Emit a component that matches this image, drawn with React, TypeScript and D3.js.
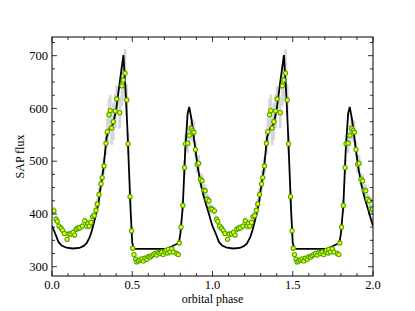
import React from 'react';
import * as d3 from 'd3';

// phase-folded light curve (one orbit, drawn twice)
const phase = [
  0.012, 0.025, 0.033, 0.044, 0.056, 0.066, 0.077, 0.094, 0.106, 0.118,
  0.131, 0.141, 0.151, 0.162, 0.174, 0.189, 0.204, 0.216, 0.224, 0.232,
  0.243, 0.253, 0.263, 0.274, 0.282, 0.293, 0.305, 0.313, 0.324, 0.336,
  0.345, 0.355, 0.363, 0.372, 0.382, 0.394, 0.403, 0.422, 0.436, 0.444,
  0.455, 0.466, 0.474, 0.486, 0.496, 0.503, 0.511, 0.521, 0.528, 0.538,
  0.548, 0.559, 0.569, 0.579, 0.590, 0.600, 0.611, 0.621, 0.631, 0.642,
  0.652, 0.662, 0.673, 0.683, 0.693, 0.704, 0.710, 0.721, 0.725, 0.735,
  0.746, 0.756, 0.777, 0.787, 0.793, 0.804, 0.815, 0.826, 0.832, 0.845,
  0.856, 0.867, 0.876, 0.884, 0.894, 0.904, 0.914, 0.925, 0.935, 0.945,
  0.955, 0.966, 0.978, 0.987, 0.997,
];
const flux = [
  406, 390, 386, 377, 373, 369, 363, 352, 362, 362,
  365, 360, 371, 373, 374, 377, 387, 377, 382, 377,
  384, 395, 397, 407, 419, 437, 457, 469, 491, 534,
  556, 588, 596, 563, 575, 595, 618, 592, 643, 654,
  667, 616, 533, 433, 368, 335, 323, 314, 309, 311,
  313, 315, 311, 316, 314, 319, 318, 321, 323, 325,
  322, 327, 325, 328, 323, 328, 331, 326, 333, 328,
  334, 328, 325, 323, 345, 375, 416, 488, 533, 534,
  549, 562, 558, 555, 522, 494, 496, 466, 463, 445,
  444, 428, 425, 410, 409,
];
const fluxErr = [
  8, 7, 7, 6, 6, 6, 5, 5, 6, 6,
  6, 6, 7, 7, 7, 7, 8, 7, 8, 7,
  8, 9, 9, 10, 10, 12, 13, 14, 16, 22,
  26, 30, 30, 32, 35, 32, 25, 30, 38, 40,
  45, 30, 20, 12, 8, 5, 4, 4, 4, 4,
  4, 4, 4, 4, 4, 4, 4, 4, 4, 4,
  4, 4, 4, 4, 4, 4, 4, 4, 4, 4,
  4, 4, 4, 4, 6, 8, 10, 14, 18, 18,
  20, 22, 20, 20, 16, 16, 16, 12, 12, 12,
  12, 10, 10, 9, 9,
];

// model curve over one orbit
const modelPhase = [
  0.0, 0.02, 0.04, 0.06, 0.09, 0.13, 0.17, 0.195, 0.215, 0.235,
  0.25, 0.27, 0.29, 0.30, 0.32, 0.34, 0.36, 0.38, 0.40, 0.42,
  0.445, 0.46, 0.47, 0.48, 0.49, 0.50, 0.51, 0.715, 0.79, 0.80,
  0.815, 0.83, 0.845, 0.855, 0.87, 0.89, 0.91, 0.93, 0.95, 0.97,
  0.99, 1.0,
];
const modelFlux = [
  377, 363, 347, 340, 336, 334.5, 335.5, 339, 344, 356,
  370, 394, 421, 445, 485, 545, 563, 570, 598, 645,
  701, 625, 560, 482, 405, 345, 334, 334, 345, 362,
  415, 520, 590, 603, 578, 530, 485, 452, 428, 408,
  387, 377,
];

const xTicks = [0, 0.5, 1, 1.5, 2];
const yTicks = [300, 400, 500, 600, 700];

const W = 415;
const H = 311;
const left = 52;
const right = 373;
const top = 37;
const bottom = 276;

export default function App() {
  const x = d3.scaleLinear().domain([0, 2]).range([left, right]);
  const y = d3.scaleLinear().domain([282.4, 735.4]).range([bottom, top]);

  const pts = [0, 1].flatMap((k) =>
    phase.map((p, i) => ({ p: p + k, f: flux[i], e: fluxErr[i] }))
  );
  const model = [0, 1].flatMap((k) =>
    modelPhase.map((p, i) => ({ p: p + k, f: modelFlux[i] }))
  );
  const line = d3
    .line<{ p: number; f: number }>()
    .x((d) => x(d.p))
    .y((d) => y(d.f));

  const xMinor = d3.range(0, 2.0001, 0.1);
  const yMinor = d3.range(300, 735, 25);
  const font = "'Liberation Serif', 'DejaVu Serif', serif";

  return (
    <svg
      width={W}
      height={H}
      style={{ position: 'absolute', left: 0, top: 0, background: '#fff' }}
      fontFamily={font}
    >
      <defs>
        <clipPath id="plot">
          <rect x={left} y={top} width={right - left} height={bottom - top} />
        </clipPath>
      </defs>

      <g clipPath="url(#plot)">
        {pts.map((d, i) => (
          <line
            key={'e' + i}
            x1={x(d.p)}
            x2={x(d.p)}
            y1={y(d.f - d.e)}
            y2={y(d.f + d.e)}
            stroke="#d6d6d6"
            strokeWidth={2.6}
          />
        ))}
        <path d={line(model) || ''} fill="none" stroke="#000" strokeWidth={1.8} />
        {pts.map((d, i) => (
          <circle
            key={'c' + i}
            cx={x(d.p)}
            cy={y(d.f)}
            r={2.1}
            fill="#ffff00"
            stroke="#44aa00"
            strokeWidth={1.1}
          />
        ))}
      </g>

      {/* ticks, inward on all four sides */}
      <g stroke="#000" strokeWidth={0.8}>
        {xMinor.map((t, i) => {
          const major = Math.abs(t * 2 - Math.round(t * 2)) < 1e-6;
          const len = major ? 5 : 3;
          return (
            <g key={'xt' + i}>
              <line x1={x(t)} x2={x(t)} y1={bottom} y2={bottom - len} />
              <line x1={x(t)} x2={x(t)} y1={top} y2={top + len} />
            </g>
          );
        })}
        {yMinor.map((t, i) => {
          const len = t % 100 === 0 ? 5 : 3;
          return (
            <g key={'yt' + i}>
              <line x1={left} x2={left + len} y1={y(t)} y2={y(t)} />
              <line x1={right} x2={right - len} y1={y(t)} y2={y(t)} />
            </g>
          );
        })}
      </g>

      <rect
        x={left}
        y={top}
        width={right - left}
        height={bottom - top}
        fill="none"
        stroke="#000"
        strokeWidth={1}
      />

      {xTicks.map((t) => (
        <text key={'xl' + t} x={x(t)} y={289} textAnchor="middle" fontSize={12.5}>
          {t.toFixed(1)}
        </text>
      ))}
      {yTicks.map((t) => (
        <text key={'yl' + t} x={48} y={y(t) + 4.3} textAnchor="end" fontSize={12.5}>
          {t}
        </text>
      ))}

      <text x={(left + right) / 2} y={303} textAnchor="middle" fontSize={12}>
        orbital phase
      </text>
      <text
        transform={`translate(24, ${(top + bottom) / 2}) rotate(-90)`}
        textAnchor="middle"
        fontSize={12}
      >
        SAP flux
      </text>
    </svg>
  );
}
